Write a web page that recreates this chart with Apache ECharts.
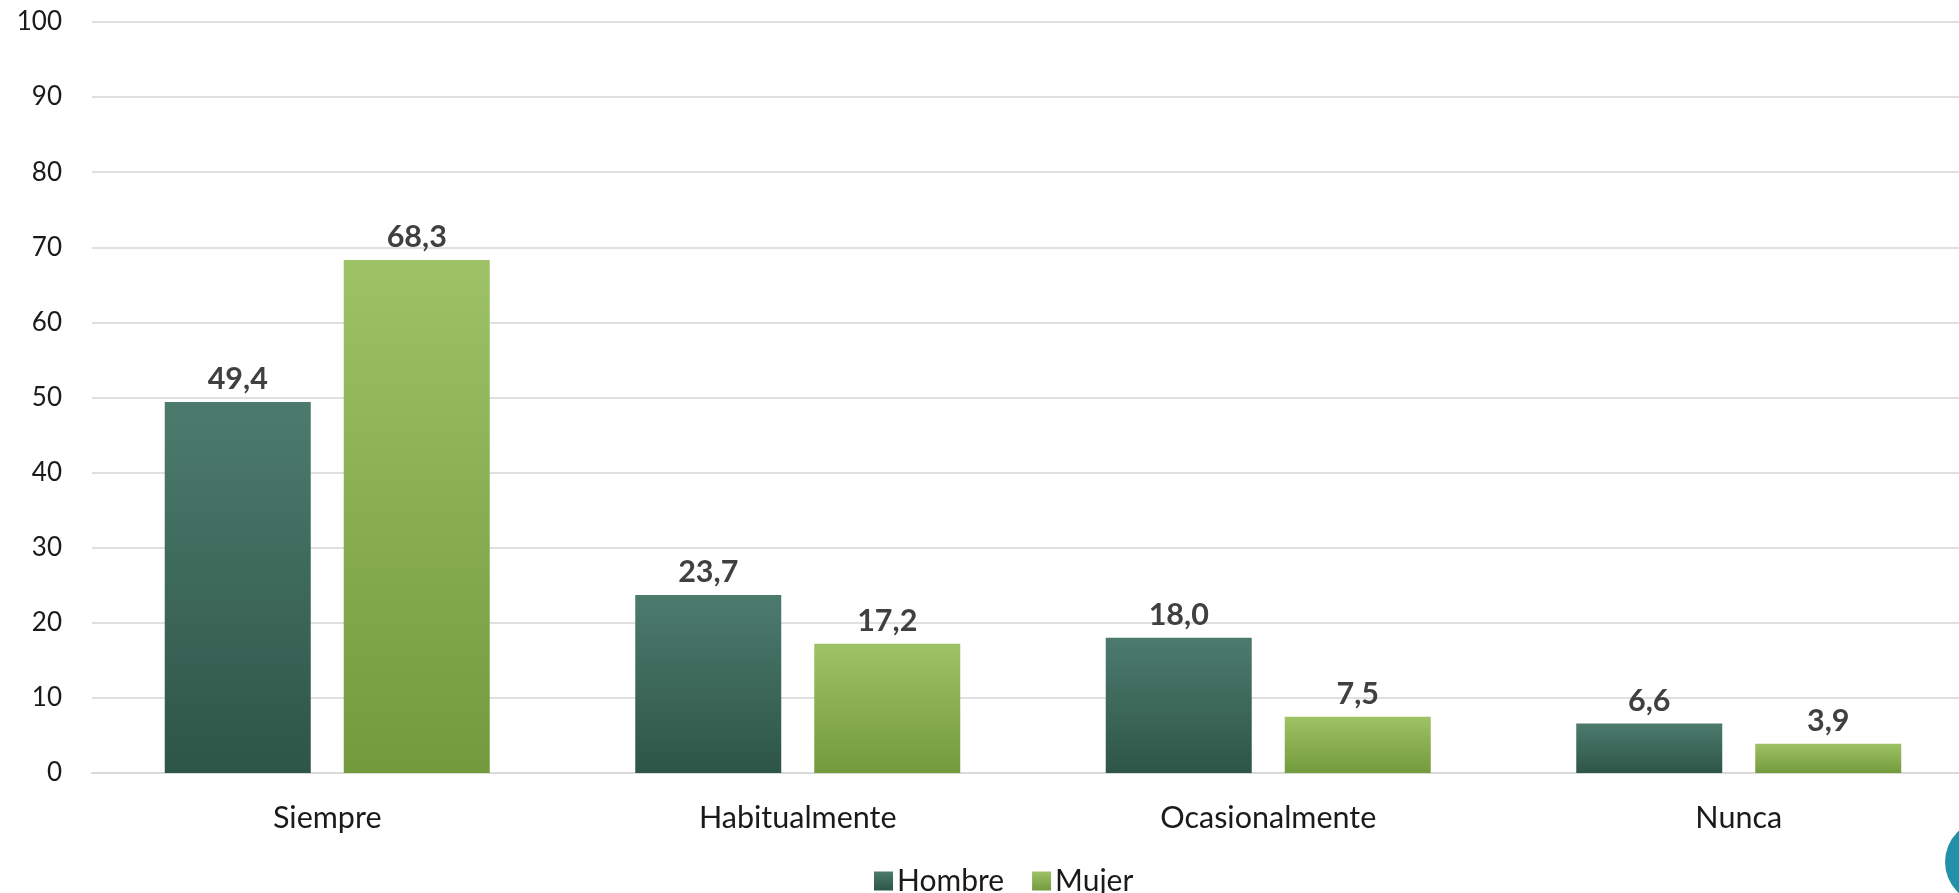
<!DOCTYPE html>
<html>
<head>
<meta charset="utf-8">
<script src="https://cdn.jsdelivr.net/npm/echarts@6/dist/echarts.min.js"></script>
<style>
html,body{margin:0;padding:0;background:#fff;}
#c{width:1959px;height:893px;}
</style>
</head>
<body>
<div id="c"></div>
<script>
const categories = ['Siempre', 'Habitualmente', 'Ocasionalmente', 'Nunca'];
const seriesNames = ['Hombre', 'Mujer'];
const hombre = [49.4, 23.7, 18.0, 6.6];
const mujer = [68.3, 17.2, 7.5, 3.9];
const yTicks = { min: 0, max: 100, interval: 10 };

const FONT = 'Lato';
function grad(top, bottom) {
  return new echarts.graphic.LinearGradient(0, 0, 0, 1, [
    { offset: 0, color: top }, { offset: 1, color: bottom }
  ]);
}
const labelCfg = {
  show: true, position: 'top', distance: 7,
  fontFamily: FONT, fontWeight: 'bold', fontSize: 30.5, color: '#404040',
  formatter: p => p.value.toFixed(1).replace('.', ',')
};

const chart = echarts.init(document.getElementById('c'), null, { renderer: 'canvas' });
chart.setOption({
  animation: false,
  backgroundColor: '#ffffff',
  grid: { left: 92, width: 1882, top: 22, height: 751, containLabel: false, outerBoundsMode: 'none' },
  legend: {
    left: 874, top: 866, padding: 0,
    itemWidth: 19, itemHeight: 19, itemGap: 28,
    textStyle: { fontFamily: FONT, fontSize: 30, color: '#1a1a1a', padding: [0, 0, 0, -1] },
    data: seriesNames.map(n => ({ name: n, icon: 'rect' }))
  },
  xAxis: {
    type: 'category', data: categories,
    axisLine: { show: true, lineStyle: { color: '#d9d9d9', width: 2 } },
    axisTick: { show: false },
    axisLabel: { fontFamily: FONT, fontSize: 30.5, color: '#1a1a1a', margin: 30 }
  },
  yAxis: {
    type: 'value', min: yTicks.min, max: yTicks.max, interval: yTicks.interval,
    axisLine: { show: false }, axisTick: { show: false },
    splitLine: { lineStyle: { color: '#e0e0e0', width: 2 } },
    axisLabel: { fontFamily: FONT, fontSize: 26, color: '#1a1a1a', margin: 30 }
  },
  series: [
    {
      name: seriesNames[0], type: 'bar', data: hombre,
      barWidth: 146, barGap: '22.6%',
      itemStyle: { color: grad('#4c7b6d', '#2d5548') },
      label: labelCfg
    },
    {
      name: seriesNames[1], type: 'bar', data: mujer,
      barWidth: 146, barGap: '22.6%',
      itemStyle: { color: grad('#9ec266', '#749a3e') },
      label: labelCfg
    }
  ],
  graphic: [
    { type: 'circle', shape: { cx: 1987, cy: 862, r: 42 }, style: { fill: '#2390a9' }, z: 10 }
  ]
});
</script>
</body>
</html>
